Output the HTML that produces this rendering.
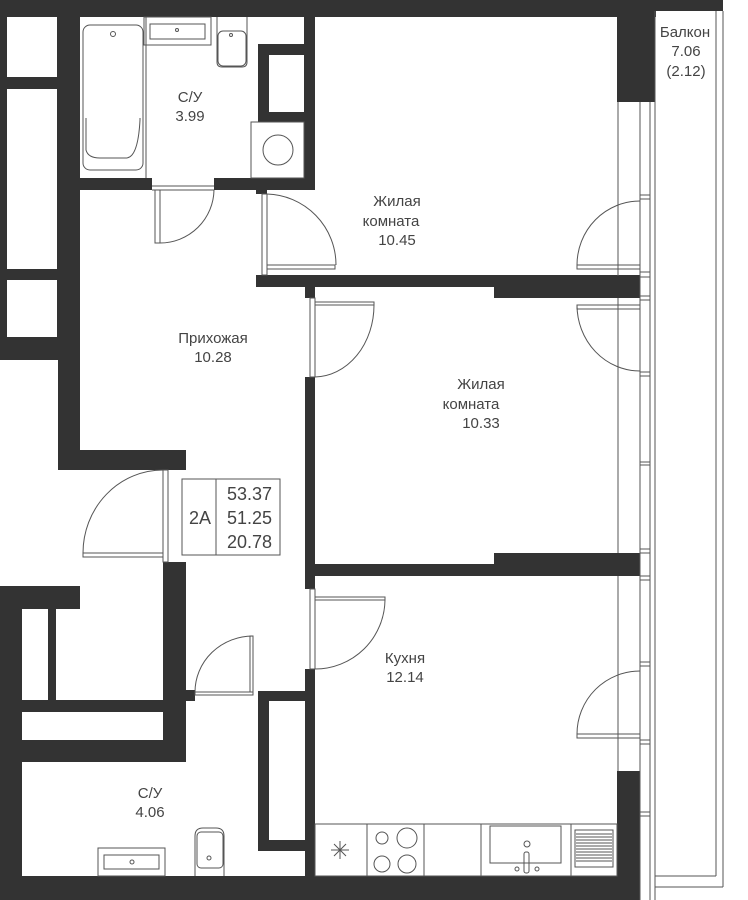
<!DOCTYPE html>
<html><head><meta charset="utf-8"><style>
html,body{margin:0;padding:0;background:#fff;}
svg{display:block;}
text{font-family:"Liberation Sans",sans-serif;fill:#444;font-size:15px;text-anchor:middle;}
</style></head><body>
<svg width="748" height="900" viewBox="0 0 748 900" xmlns="http://www.w3.org/2000/svg">
<g fill="#333">
<!-- top wall -->
<rect x="0" y="0" width="656" height="17"/>
<rect x="655" y="0" width="68" height="11"/>
<!-- left column -->
<rect x="0" y="0" width="80" height="360"/>
<rect x="58" y="360" width="22" height="110"/>
<rect x="58" y="450" width="128" height="20"/>
<!-- bathroom 1 walls -->
<rect x="304" y="17" width="11" height="173"/>
<rect x="58" y="178" width="94" height="12"/>
<rect x="214" y="178" width="101" height="12"/>
<rect x="258" y="44" width="57" height="78"/>
<!-- door stubs room1 -->
<rect x="256" y="190" width="11" height="4"/>
<rect x="256" y="275" width="11" height="12"/>
<!-- wall room1/room2 -->
<rect x="256" y="275" width="384" height="12"/>
<rect x="494" y="286" width="146" height="12"/>
<rect x="305" y="286" width="10" height="12"/>
<!-- hall/room2 wall -->
<rect x="305" y="377" width="10" height="212"/>
<rect x="305" y="669" width="10" height="231"/>
<!-- room2/kitchen wall -->
<rect x="305" y="564" width="335" height="12"/>
<rect x="494" y="553" width="146" height="12"/>
<!-- right dark block -->
<rect x="617" y="11" width="38" height="91"/>
<rect x="617" y="771" width="23" height="106"/>
<!-- bottom -->
<rect x="0" y="876" width="640" height="24"/>
<!-- entrance/left lower -->
<rect x="163" y="562" width="23" height="200"/>
<rect x="0" y="586" width="80" height="23"/>
<rect x="0" y="586" width="22" height="314"/>
<rect x="48" y="609" width="8" height="92"/>
<rect x="0" y="700" width="186" height="12"/>
<rect x="0" y="740" width="186" height="22"/>
<rect x="163" y="690" width="32" height="11"/>
<rect x="258" y="691" width="57" height="10"/>
<rect x="258" y="701" width="11" height="150"/>
<rect x="258" y="840" width="47" height="11"/>
</g>
<g fill="#fff">
<rect x="7" y="17" width="50" height="60"/>
<rect x="7" y="89" width="50" height="180"/>
<rect x="7" y="280" width="50" height="57"/>
<rect x="269" y="55" width="35" height="57"/>
<rect x="22" y="609" width="26" height="91"/>
<rect x="22" y="712" width="141" height="28"/>
</g>
<g fill="none" stroke="#555" stroke-width="1">
<!-- bathroom fixtures -->
<rect x="83" y="25" width="60" height="145" rx="7"/>
<path d="M86 118 V150 Q88 158 100 158 H126 Q138 158 140 120 V118"/>
<circle cx="113" cy="34" r="2.5"/>
<line x1="146" y1="17" x2="146" y2="178"/>
<rect x="144" y="17" width="67" height="28"/>
<rect x="150" y="24" width="55" height="15"/>
<circle cx="177" cy="30" r="1.5"/>
<path d="M217 17 V62 Q217 67 222 67 H242 Q247 67 247 62 V17"/>
<rect x="218" y="31" width="28" height="35" rx="5"/>
<circle cx="231" cy="35" r="1.5"/>
<rect x="251" y="122" width="53" height="56"/>
<circle cx="278" cy="150" r="15"/>
<!-- door bath1 -->
<rect x="155" y="190" width="5" height="53"/>
<line x1="152" y1="186" x2="214" y2="186"/><line x1="152" y1="190" x2="214" y2="190"/>
<path d="M160 243 A54 54 0 0 0 214 190"/>
<!-- door room1 -->
<rect x="262" y="194" width="5" height="81"/>
<rect x="267" y="265" width="68" height="4"/>
<path d="M267 194 A71 71 0 0 1 336 265"/>
<!-- door room2 -->
<rect x="310" y="298" width="5" height="79"/>
<rect x="315" y="302" width="59" height="3"/>
<path d="M374 305 A60 72 0 0 1 315 377"/>
<!-- kitchen door -->
<rect x="310" y="589" width="5" height="80"/>
<rect x="315" y="597" width="70" height="3"/>
<path d="M385 600 A70 70 0 0 1 315 669"/>
<!-- entrance door -->
<rect x="163" y="470" width="5" height="92"/>
<rect x="83" y="553" width="80" height="4"/>
<path d="M83 553 A80 83 0 0 1 163 470"/>
<!-- small door -->
<rect x="195" y="692" width="58" height="3"/>
<rect x="250" y="636" width="3" height="56"/>
<path d="M195 692 A58 56 0 0 1 253 636"/>
<!-- right windows -->
<line x1="618" y1="102" x2="618" y2="276"/>
<line x1="618" y1="298" x2="618" y2="553"/>
<line x1="618" y1="576" x2="618" y2="771"/>
<line x1="640" y1="102" x2="640" y2="900"/>
<line x1="650" y1="102" x2="650" y2="900"/>
<line x1="655" y1="11" x2="655" y2="900"/>
<line x1="716" y1="11" x2="716" y2="876"/>
<line x1="723" y1="11" x2="723" y2="887"/>
<line x1="655" y1="876" x2="716" y2="876"/>
<line x1="655" y1="887" x2="723" y2="887"/>
<g>
<line x1="640" y1="195" x2="650" y2="195"/><line x1="640" y1="199" x2="650" y2="199"/>
<line x1="640" y1="272" x2="650" y2="272"/><line x1="640" y1="277" x2="650" y2="277"/>
<line x1="640" y1="296" x2="650" y2="296"/><line x1="640" y1="300" x2="650" y2="300"/>
<line x1="640" y1="372" x2="650" y2="372"/><line x1="640" y1="376" x2="650" y2="376"/>
<line x1="640" y1="462" x2="650" y2="462"/><line x1="640" y1="465" x2="650" y2="465"/>
<line x1="640" y1="549" x2="650" y2="549"/><line x1="640" y1="553" x2="650" y2="553"/>
<line x1="640" y1="576" x2="650" y2="576"/><line x1="640" y1="580" x2="650" y2="580"/>
<line x1="640" y1="662" x2="650" y2="662"/><line x1="640" y1="666" x2="650" y2="666"/>
<line x1="640" y1="740" x2="650" y2="740"/><line x1="640" y1="744" x2="650" y2="744"/>
<line x1="640" y1="812" x2="650" y2="812"/><line x1="640" y1="816" x2="650" y2="816"/>
</g>
<!-- balcony doors -->
<rect x="577" y="265" width="63" height="4"/>
<path d="M577 265 A63 64 0 0 1 640 201"/>
<rect x="577" y="305" width="63" height="4"/>
<path d="M577 305 A63 66 0 0 0 640 371"/>
<rect x="577" y="734" width="63" height="4"/>
<path d="M577 734 A63 63 0 0 1 640 671"/>
<!-- kitchen counter -->
<rect x="315" y="824" width="302" height="52"/>
<line x1="367" y1="824" x2="367" y2="876"/>
<line x1="424" y1="824" x2="424" y2="876"/>
<line x1="481" y1="824" x2="481" y2="876"/>
<line x1="571" y1="824" x2="571" y2="876"/>
<path d="M331 850 H349 M340 841 V859 M334 844 L346 856 M346 844 L334 856"/>
<circle cx="382" cy="838" r="6"/>
<circle cx="407" cy="838" r="10"/>
<circle cx="382" cy="864" r="8"/>
<circle cx="407" cy="864" r="9"/>
<rect x="490" y="826" width="71" height="37"/>
<circle cx="527" cy="844" r="3"/>
<rect x="524" y="852" width="5" height="21" rx="2"/>
<circle cx="517" cy="869" r="2"/><circle cx="537" cy="869" r="2"/>
<rect x="575" y="830" width="38" height="37"/>
<path d="M576 834 H612 M576 837 H612 M576 840 H612 M576 843 H612 M576 846 H612 M576 849 H612 M576 852 H612 M576 855 H612 M576 858 H612 M576 861 H612"/>
<!-- bathroom 2 -->
<rect x="98" y="848" width="67" height="28"/>
<rect x="104" y="855" width="55" height="14"/>
<circle cx="132" cy="862" r="2"/>
<path d="M195 876 V836 Q195 828 203 828 H216 Q224 828 224 836 V876"/>
<rect x="197" y="832" width="26" height="36" rx="4"/>
<circle cx="209" cy="858" r="2"/>
<!-- info box -->
<rect x="182" y="479" width="98" height="76"/>
<line x1="216" y1="479" x2="216" y2="555"/>
</g>
<text x="190" y="102">С/У</text>
<text x="190" y="121">3.99</text>
<text x="397" y="206">Жилая</text>
<text x="391" y="226">комната</text>
<text x="397" y="245">10.45</text>
<text x="213" y="343">Прихожая</text>
<text x="213" y="362">10.28</text>
<text x="481" y="389">Жилая</text>
<text x="471" y="409">комната</text>
<text x="481" y="428">10.33</text>
<text x="685" y="37">Балкон</text>
<text x="686" y="56">7.06</text>
<text x="686" y="76">(2.12)</text>
<text x="405" y="663">Кухня</text>
<text x="405" y="682">12.14</text>
<text x="150" y="798">С/У</text>
<text x="150" y="817">4.06</text>
<text x="200" y="524" style="font-size:18px">2A</text>
<text x="272" y="500" style="font-size:18px;text-anchor:end">53.37</text>
<text x="272" y="524" style="font-size:18px;text-anchor:end">51.25</text>
<text x="272" y="548" style="font-size:18px;text-anchor:end">20.78</text>
</svg>
</body></html>
